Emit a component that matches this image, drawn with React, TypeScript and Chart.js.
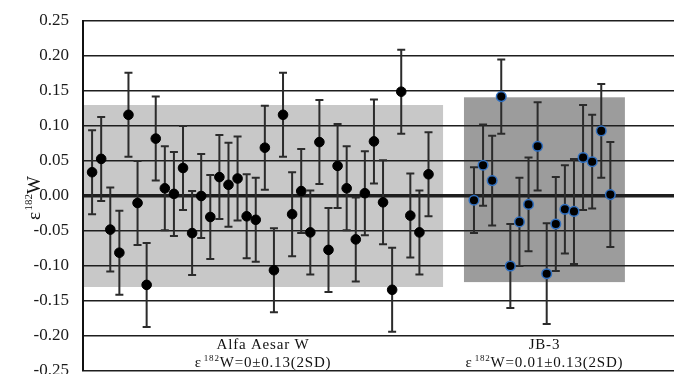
import React, { useEffect, useRef } from "react";
import { Chart, registerables } from "chart.js";

Chart.register(...registerables);

// ---------- data ----------
const alfaIndex = [1, 2, 3, 4, 5, 6, 7, 8, 9, 10, 11, 12, 13, 14, 15, 16, 17, 18, 19, 20, 21, 22, 23, 24, 25, 26, 27, 28, 29, 30, 31, 32, 33, 34, 35, 36, 37, 38];
const alfaValues = [0.034, 0.053, -0.048, -0.081, 0.116, -0.01, -0.127, 0.082, 0.011, 0.003, 0.04, -0.053, 0.0, -0.03, 0.027, 0.016, 0.025, -0.029, -0.034, 0.069, -0.106, 0.116, -0.026, 0.007, -0.052, 0.077, -0.077, 0.043, 0.011, -0.062, 0.004, 0.078, -0.009, -0.134, 0.149, -0.028, -0.052, 0.031];
const alfaErrors = [0.06, 0.06, 0.06, 0.06, 0.06, 0.06, 0.06, 0.06, 0.06, 0.06, 0.06, 0.06, 0.06, 0.06, 0.06, 0.06, 0.06, 0.06, 0.06, 0.06, 0.06, 0.06, 0.06, 0.06, 0.06, 0.06, 0.06, 0.06, 0.06, 0.06, 0.06, 0.06, 0.06, 0.06, 0.06, 0.06, 0.06, 0.06];

const jbIndex = [43, 44, 45, 46, 47, 48, 49, 50, 51, 52, 53, 54, 55, 56, 57, 58];
const jbValues = [-0.006, 0.044, 0.022, 0.142, -0.1, -0.037, -0.012, 0.071, -0.111, -0.04, -0.019, -0.022, 0.055, 0.049, 0.093, 0.002];
const jbErrors = [0.047, 0.058, 0.064, 0.053, 0.06, 0.063, 0.067, 0.063, 0.072, 0.067, 0.063, 0.075, 0.075, 0.067, 0.067, 0.075];

// 2SD bands: [xStart, xEnd, yLow, yHigh]
const alfaBand = [0, 39.6, -0.13, 0.13];
const jbBand = [41.9, 59.6, -0.123, 0.141];

const groupNames = ["Alfa Aesar W", "JB-3"];
const groupStats = ["W=0\u00B10.13(2SD)", "W=0.01\u00B10.13(2SD)"];

const yTicksMin = -0.25;
const yTicksMax = 0.25;
const yStep = 0.05;

// ---------- drawing helpers ----------
const SERIF = '"Liberation Serif", "Times New Roman", serif';

type Part = { t: string; sup?: boolean; gap?: number };

function drawRich(ctx: CanvasRenderingContext2D, parts: Part[], cx: number, baseline: number, size: number, supSize: number) {
  const fonts = parts.map((p) => `${p.sup ? supSize : size}px ${SERIF}`);
  const widths: number[] = [];
  let total = 0;
  parts.forEach((p, i) => {
    ctx.font = fonts[i];
    const w = ctx.measureText(p.t).width + (p.gap || 0);
    widths.push(w);
    total += w;
  });
  let x = cx - total / 2;
  ctx.textAlign = "left";
  ctx.textBaseline = "alphabetic";
  parts.forEach((p, i) => {
    ctx.font = fonts[i];
    ctx.fillText(p.t, x, p.sup ? baseline - size * 0.42 : baseline);
    x += widths[i];
  });
}

const bandPlugin = {
  id: "bands",
  beforeDraw(chart: any) {
    const { ctx, scales } = chart;
    const x = scales.x;
    const y = scales.y;
    const bands = [
      { b: alfaBand, c: "#c8c8c8" },
      { b: jbBand, c: "#9c9c9c" },
    ];
    ctx.save();
    bands.forEach(({ b, c }) => {
      const x0 = x.getPixelForValue(b[0]);
      const x1 = x.getPixelForValue(b[1]);
      const y0 = y.getPixelForValue(b[3]);
      const y1 = y.getPixelForValue(b[2]);
      ctx.fillStyle = c;
      ctx.fillRect(x0, y0, x1 - x0, y1 - y0);
    });
    ctx.restore();
  },
};

const errorBarPlugin = {
  id: "errorBars",
  beforeDatasetsDraw(chart: any) {
    const { ctx, scales } = chart;
    const x = scales.x;
    const y = scales.y;
    const groups = [
      { xs: alfaIndex, vs: alfaValues, es: alfaErrors },
      { xs: jbIndex, vs: jbValues, es: jbErrors },
    ];
    ctx.save();
    ctx.strokeStyle = "#2b2b2b";
    ctx.lineWidth = 2;
    groups.forEach((g) => {
      g.xs.forEach((xi, i) => {
        const px = x.getPixelForValue(xi);
        const top = y.getPixelForValue(g.vs[i] + g.es[i]);
        const bot = y.getPixelForValue(g.vs[i] - g.es[i]);
        ctx.beginPath();
        ctx.moveTo(px, top);
        ctx.lineTo(px, bot);
        ctx.moveTo(px - 4, top);
        ctx.lineTo(px + 4, top);
        ctx.moveTo(px - 4, bot);
        ctx.lineTo(px + 4, bot);
        ctx.stroke();
      });
    });
    ctx.restore();
  },
};

const textPlugin = {
  id: "texts",
  afterDraw(chart: any) {
    const { ctx, scales } = chart;
    const x = scales.x;
    ctx.save();
    ctx.fillStyle = "#111";
    // y axis title
    ctx.save();
    ctx.translate(40, 198);
    ctx.rotate(-Math.PI / 2);
    drawRich(ctx, [{ t: "\u03B5", gap: 1.5 }, { t: "182", sup: true }, { t: "W" }], 0, 0, 19, 11);
    ctx.restore();
    // group labels
    const centers = [(alfaBand[0] + alfaBand[1]) / 2, (jbBand[0] + jbBand[1]) / 2];
    try {
      (ctx as any).letterSpacing = "0.8px";
    } catch (e) {}
    centers.forEach((c, i) => {
      const cx = x.getPixelForValue(c);
      drawRich(ctx, [{ t: groupNames[i] }], cx, 349, 15, 9);
      drawRich(ctx, [{ t: "\u03B5", gap: 2 }, { t: "182", sup: true }, { t: groupStats[i] }], cx, 367, 15, 9);
    });
    try {
      (ctx as any).letterSpacing = "0px";
    } catch (e) {}
    ctx.restore();
  },
};

export default function App() {
  const ref = useRef<HTMLCanvasElement | null>(null);

  useEffect(() => {
    if (!ref.current) return;
    const chart = new Chart(ref.current, {
      type: "scatter",
      data: {
        datasets: [
          {
            label: "Alfa Aesar W",
            data: alfaIndex.map((xi, i) => ({ x: xi, y: alfaValues[i] })),
            backgroundColor: "#000",
            borderColor: "#000",
            borderWidth: 1,
            pointRadius: 4.8,
          },
          {
            label: "JB-3",
            data: jbIndex.map((xi, i) => ({ x: xi, y: jbValues[i] })),
            backgroundColor: "#000",
            borderColor: "#2f6fc0",
            borderWidth: 1.5,
            pointRadius: 4.8,
          },
        ],
      },
      options: {
        responsive: false,
        animation: false,
        layout: { autoPadding: false, padding: { top: 21, bottom: 3, left: 0, right: 0 } },
        plugins: { legend: { display: false }, tooltip: { enabled: false } },
        scales: {
          x: { type: "linear", min: 0, max: 65, display: false },
          y: {
            type: "linear",
            min: yTicksMin,
            max: yTicksMax,
            afterFit: (scale: any) => {
              scale.width = 83;
              scale.paddingTop = 0;
              scale.paddingBottom = 0;
            },
            ticks: {
              stepSize: yStep,
              padding: 14,
              color: "#1a1a1a",
              font: { family: "Liberation Serif", size: 17 },
              callback: (v: any) => Number(v).toFixed(2),
            },
            grid: {
              drawTicks: false,
              color: "#1e1e1e",
              lineWidth: (c: any) => (Math.abs(c.tick?.value ?? 1) < 1e-9 ? 3.5 : 1.5),
            },
            border: { display: true, color: "#111", width: 2 },
          },
        },
      },
      plugins: [bandPlugin, errorBarPlugin, textPlugin],
    });
    return () => chart.destroy();
  }, []);

  return (
    <canvas
      ref={ref}
      width={674}
      height={374}
      style={{ position: "absolute", left: 0, top: 0, width: 674, height: 374, background: "#fff" }}
    />
  );
}
